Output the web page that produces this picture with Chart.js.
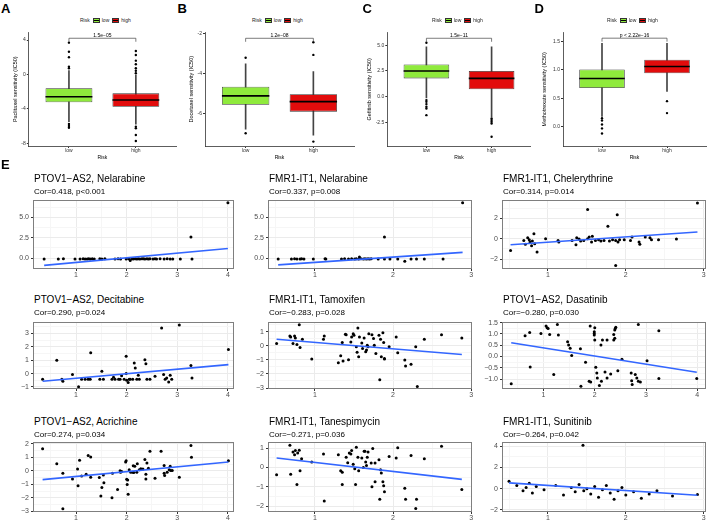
<!DOCTYPE html>
<html>
<head>
<meta charset="utf-8">
<title>Drug sensitivity and correlation panels</title>
<script src="https://cdn.jsdelivr.net/npm/chart.js@4.4.1/dist/chart.umd.min.js"></script>
<style>
  body { margin: 0; background: #fff; }
  #fig { position: relative; width: 708px; height: 521px; overflow: hidden; background: #fff;
         font-family: "Liberation Sans", Arial, Helvetica, sans-serif; color: #000; }
  #fig canvas { position: absolute; }
  .tag { position: absolute; font-size: 13px; line-height: 13px; font-weight: bold; }
  .ttl { position: absolute; font-size: 10px; line-height: 10px; white-space: nowrap; }
  .sub { position: absolute; font-size: 8px; line-height: 8px; white-space: nowrap; }
  .leg { position: absolute; height: 7px; font-size: 5px; line-height: 7px; white-space: nowrap; color: #222;
         display: flex; align-items: center; }
  .key { position: relative; display: inline-block; flex: 0 0 7px; width: 7px; height: 5px; box-sizing: border-box;
         border: 0.7px solid #333; margin: 0 2px 0 3px; }
  .key::after { content: ''; position: absolute; left: 0; right: 0; top: 1.3px; height: 1px; background: #000; }
</style>
</head>
<body>
<div id="fig"></div>
<script>
// ---------- A-D: IC50 by risk group ----------
var riskGroups = ['low', 'high'];
var boxDrugs = ['Paclitaxel', 'Docetaxel', 'Gefitinib', 'Methotrexate'];
var boxPValues = ['1.5e\u221205', '1.2e\u221208', '1.5e\u221211', 'p < 2.22e\u221216'];

// [lower whisker, Q1, median, Q3, upper whisker]
var paclitaxelLow  = [-5.49, -3.23, -2.58, -1.60, 0.45];
var paclitaxelHigh = [-5.76, -3.74, -2.97, -2.19, -0.06];
var docetaxelLow   = [-6.80, -5.58, -5.13, -4.67, -3.53];
var docetaxelHigh  = [-7.10, -5.92, -5.42, -5.05, -3.92];
var gefitinibLow   = [-0.10, 1.78, 2.50, 3.14, 4.85];
var gefitinibHigh  = [-1.94, 0.72, 1.78, 2.50, 4.85];
var methotrexateLow  = [0.18, 0.68, 0.85, 1.01, 1.47];
var methotrexateHigh = [0.62, 0.94, 1.06, 1.18, 1.47];

// outlying samples
var paclitaxelOutLow  = [3.70, 2.65, 2.00, 0.91, 0.72, -5.76, -5.99, -6.19];
var paclitaxelOutHigh = [2.73, 2.27, 1.61, 1.19, 0.72, 0.44, 0.14, -6.07, -6.26, -7.03, -7.73];
var docetaxelOutLow   = [-3.22, -7.00];
var docetaxelOutHigh  = [-2.45, -3.08, -7.42];
var gefitinibOutLow   = [5.24, -0.32, -0.49, -0.71, -0.97, -1.13, -1.78];
var gefitinibOutHigh  = [-2.10, -2.26, -2.43, -2.59, -3.88];
var methotrexateOutLow  = [0.15, 0.11, 0.04, -0.03, -0.12];
var methotrexateOutHigh = [0.45, 0.24];

var paclitaxelTicks   = ['-8', '-4', '0', '4'];
var docetaxelTicks    = ['-6', '-4', '-2'];
var gefitinibTicks    = ['-2.5', '0.0', '2.5', '5.0'];
var methotrexateTicks = ['0.0', '0.5', '1.0', '1.5'];

// ---------- E: correlation scatter panels ----------
var corTitles = ['PTOV1\u2212AS2, Nelarabine', 'FMR1-IT1, Nelarabine', 'FMR1-IT1, Chelerythrine',
                 'PTOV1\u2212AS2, Decitabine', 'FMR1-IT1, Tamoxifen', 'PTOV1\u2212AS2, Dasatinib',
                 'PTOV1\u2212AS2, Acrichine', 'FMR1-IT1, Tanespimycin', 'FMR1-IT1, Sunitinib'];
var corStats = ['Cor=0.418, p<0.001', 'Cor=0.337, p=0.008', 'Cor=0.314, p=0.014',
                'Cor=0.290, p=0.024', 'Cor=\u22120.283, p=0.028', 'Cor=\u22120.280, p=0.030',
                'Cor=0.274, p=0.034', 'Cor=\u22120.271, p=0.036', 'Cor=\u22120.264, p=0.042'];

var xTicks3 = ['1', '2', '3'];
var xTicks4 = ['1', '2', '3', '4'];

var e1X = [0.37, 0.65, 0.75, 0.98, 1.08, 1.14, 1.18, 1.22, 1.25, 1.28, 1.32, 1.36, 1.47, 1.51, 1.57,
           1.77, 1.83, 1.88, 1.99, 2.04, 2.07, 2.10, 2.13, 2.17, 2.20, 2.23, 2.26, 2.30, 2.33, 2.36,
           2.40, 2.43, 2.46, 2.52, 2.56, 2.59, 2.66, 2.74, 2.80, 2.86, 2.91, 3.06, 3.29, 3.27, 4.00];
var e1Y = [-0.12, -0.12, -0.10, -0.12, -0.12, -0.10, -0.12, -0.12, -0.10, -0.12, -0.10, -0.12, -0.10, -0.12, -0.10,
           -0.12, -0.10, -0.12, -0.12, -0.10, -0.30, -0.10, -0.12, -0.10, -0.12, -0.10, -0.12, -0.10, -0.10, -0.12,
           -0.10, -0.12, -0.10, -0.12, -0.10, -0.12, -0.10, -0.12, -0.10, -0.12, -0.12, -0.12, -0.12, 2.60, 6.80];
var e1FitX = [0.37, 4.00], e1FitY = [-0.90, 1.17];
var e1YTicks = ['0.0', '2.5', '5.0'];

var e2X = [0.53, 0.70, 0.74, 0.77, 0.81, 0.83, 0.86, 0.98, 1.13, 1.14, 1.34, 1.38, 1.43, 1.47, 1.51,
           1.53, 1.56, 1.59, 1.62, 1.64, 1.66, 1.68, 1.70, 1.72, 1.81, 1.89, 1.96, 2.06, 2.15, 2.23,
           2.30, 2.40, 2.64, 1.57, 1.89, 2.89];
var e2Y = [-0.12, -0.12, -0.10, -0.12, -0.12, -0.10, -0.12, -0.12, -0.10, -0.12, -0.12, -0.10, -0.12, -0.10, -0.12,
           -0.10, -0.12, -0.10, -0.12, -0.10, -0.12, -0.10, -0.12, -0.10, -0.12, -0.12, -0.12, -0.12, -0.40, -0.12,
           -0.12, -0.12, -0.12, 0.12, 2.60, 6.80];
var e2FitX = [0.53, 2.89], e2FitY = [-0.84, 0.70];
var e2YTicks = ['0.0', '2.5', '5.0'];

var e3X = [0.52, 0.69, 0.71, 0.74, 0.76, 0.77, 0.79, 0.80, 0.82, 0.83, 0.86, 0.97, 1.13, 1.14, 1.31, 1.36,
           1.37, 1.40, 1.42, 1.46, 1.51, 1.51, 1.53, 1.56, 1.57, 1.61, 1.65, 1.68, 1.72, 1.77, 1.79, 1.83,
           1.87, 1.89, 1.90, 1.92, 1.87, 1.98, 2.06, 2.08, 2.17, 2.18, 2.25, 2.31, 2.33, 2.42, 2.65, 2.92];
var e3Y = [-1.15, -0.17, -0.56, 0.10, -0.10, -0.33, -0.69, -0.23, 0.49, -0.49, -1.32, 0.00, -0.17, -0.33, -0.17, -0.59,
           0.10, -0.04, -0.23, -0.17, 0.00, 2.86, 0.16, -0.33, 0.23, -0.17, -0.10, -0.23, -0.17, 1.21, -0.23, -0.10,
           -0.17, 2.36, -0.33, -0.10, -2.63, -0.10, -0.17, 0.16, -0.33, -0.56, 0.16, 0.10, -0.10, -0.10, -0.04, 3.51];
var e3FitX = [0.52, 2.92], e3FitY = [-0.59, 0.65];
var e3YTicks = ['\u22122', '0', '2'];

var e4X = [0.34, 0.62, 0.72, 0.74, 0.93, 1.05, 1.11, 1.18, 1.24, 1.29, 1.28, 1.51, 1.47, 1.54, 1.71, 1.74, 1.77,
           1.84, 1.87, 1.90, 1.95, 1.99, 1.99, 2.00, 2.03, 2.05, 2.07, 2.12, 2.15, 2.17, 2.20, 2.23, 2.25,
           2.36, 2.38, 2.40, 2.46, 2.56, 2.69, 2.73, 2.76, 2.79, 2.83, 2.86, 2.89, 3.04, 3.27, 3.29, 4.01];
var e4Y = [-0.42, 0.99, -0.42, -0.57, -0.07, -0.99, -0.42, -0.42, -0.42, 1.56, -0.42, 0.17, -0.42, -0.42, -0.42, -0.27, -0.42,
           -0.42, -0.42, -0.17, -0.42, 1.30, 0.00, -0.50, -0.67, -0.42, -0.42, -0.42, 0.79, 0.41, -0.42, -0.13, -0.42,
           1.04, 0.74, -0.42, -0.42, -0.20, 3.41, -0.07, -0.42, -0.33, -0.62, -0.13, -0.42, 3.63, 0.61, -0.33, 1.80];
var e4FitX = [0.34, 4.01], e4FitY = [-0.57, 0.67];
var e4YTicks = ['\u22121', '0', '1', '2', '3'];

var e5X = [0.51, 0.68, 0.69, 0.72, 0.74, 0.75, 0.77, 0.80, 0.81, 0.84, 0.96, 1.11, 1.12, 1.30, 1.33, 1.35, 1.36, 1.39,
           1.40, 1.43, 1.46, 1.47, 1.49, 1.50, 1.53, 1.55, 1.54, 1.56, 1.57, 1.60, 1.61, 1.63, 1.65, 1.66, 1.67, 1.68,
           1.69, 1.73, 1.75, 1.76, 1.78, 1.82, 1.83, 1.84, 1.85, 1.87, 1.88, 1.89, 1.89, 1.95, 2.04, 2.06, 2.15, 2.16,
           2.23, 2.29, 2.31, 2.40, 2.62, 2.88];
var e5Y = [0.17, 0.70, 0.63, 0.17, 0.70, 0.56, 0.10, 1.51, -0.11, 0.47, -0.94, 0.47, 0.70, -1.20, -0.70, 0.24, -1.08, 0.82,
           0.80, -0.99, 0.28, 0.63, 0.87, 0.75, -0.07, 1.27, -0.46, -0.77, 0.63, 0.21, -0.18, 0.56, -0.42, -0.30, 0.05, -0.07,
           0.87, 0.80, 0.52, 0.05, -0.54, 0.75, -2.42, 0.47, -0.77, 0.94, 0.24, -0.89, -0.94, -0.07, 0.63, -0.49, -1.01, -1.43,
           -1.31, -0.07, -2.89, 0.47, 0.80, 0.56];
var e5FitX = [0.51, 2.88], e5FitY = [0.47, -0.61];
var e5YTicks = ['\u22123', '\u22122', '\u22121', '0', '1'];

var e6X = [0.37, 0.64, 0.73, 0.74, 0.95, 1.05, 1.07, 1.09, 1.12, 1.20, 1.27, 1.29, 1.47, 1.49, 1.52, 1.55, 1.72, 1.73,
           1.82, 1.89, 1.91, 1.92, 1.99, 1.99, 1.99, 2.00, 2.00, 2.02, 2.04, 2.05, 2.09, 2.12, 2.13, 2.15, 2.20, 2.24,
           2.24, 2.31, 2.37, 2.37, 2.39, 2.39, 2.40, 2.41, 2.45, 2.53, 2.71, 2.72, 2.73, 2.79, 2.82, 2.85, 2.89, 2.85,
           3.02, 3.25, 3.25, 3.99];
var e6Y = [-1.21, 0.92, 1.07, -0.47, 1.02, 1.35, 1.27, 1.24, 0.98, -0.80, 1.42, 0.95, 0.66, 0.51, 0.37, 0.04, 0.34, -1.32,
           -0.25, -1.10, 1.35, -1.13, 1.02, 1.10, 0.95, 1.27, 0.73, -0.48, -0.73, -0.95, -1.29, 0.51, -1.10, 0.73, -0.69, 0.73,
           -0.95, -0.77, 0.73, 0.98, 1.17, 0.81, 1.24, 1.30, -0.63, -0.12, -0.73, -1.07, -1.24, -0.80, -0.95, -1.10, -1.13, 1.42,
           -0.19, 1.14, -0.98, -0.98];
var e6FitX = [0.37, 3.99], e6FitY = [0.61, -0.70];
var e6YTicks = ['\u22121.0', '\u22120.5', '0.0', '0.5', '1.0', '1.5'];

var e7X = [0.34, 0.62, 0.74, 0.93, 1.03, 1.04, 1.07, 1.11, 1.20, 1.24, 1.29, 1.29, 1.46, 1.49, 1.51, 1.54, 1.55, 1.71,
           1.72, 1.82, 1.87, 1.88, 1.90, 1.98, 1.99, 2.00, 2.01, 2.02, 2.03, 2.05, 2.08, 2.12, 2.13, 2.14, 2.16, 2.20,
           2.21, 2.25, 2.28, 2.32, 2.36, 2.38, 2.38, 2.40, 2.43, 2.46, 2.56, 2.68, 2.74, 2.74, 2.75, 2.80, 2.84, 2.86,
           2.87, 2.90, 3.04, 3.27, 3.28, 4.01, 0.74];
var e7Y = [1.63, 0.53, -0.18, -0.60, 0.13, -1.10, 0.78, -0.38, -0.25, 1.13, 1.03, -0.48, -0.50, -1.85, -1.23, -0.30, -0.88, -1.98,
           -0.18, -1.38, 0.00, -0.10, -0.05, 0.65, 0.75, -0.63, -1.00, -0.68, -1.73, 0.08, -0.10, -0.10, 0.38, -0.13, 0.33, -0.10,
           0.53, 0.08, 0.15, 0.13, 0.83, -0.25, -0.60, 0.58, 0.20, 1.45, -0.55, 1.45, 0.40, -0.18, -0.35, -0.10, 0.08, 0.33,
           0.03, 0.03, -0.48, 1.88, 1.00, 0.75, -2.80];
var e7FitX = [0.34, 4.01], e7FitY = [-0.65, 0.65];
var e7YTicks = ['\u22123', '\u22122', '\u22121', '0', '1', '2'];

var e8X = [0.51, 0.68, 0.69, 0.72, 0.74, 0.75, 0.77, 0.78, 0.80, 0.81, 0.83, 0.96, 1.11, 1.12, 1.30, 1.33, 1.35, 1.35,
           1.40, 1.42, 1.44, 1.46, 1.47, 1.49, 1.51, 1.52, 1.53, 1.55, 1.56, 1.60, 1.62, 1.63, 1.64, 1.65, 1.66, 1.67,
           1.68, 1.72, 1.73, 1.74, 1.77, 1.77, 1.82, 1.83, 1.84, 1.85, 1.87, 1.88, 1.89, 1.95, 2.04, 2.06, 2.15, 2.16,
           2.23, 2.30, 2.29, 2.40, 2.62, 2.88];
var e8Y = [-0.38, 1.14, -0.35, 0.80, 0.66, 0.87, -0.87, 0.75, 0.88, -0.17, 0.45, 0.28, 0.69, -1.72, 0.66, -0.17, -0.24, -0.87,
           0.52, 0.24, 0.75, 0.69, 0.87, 0.17, -0.07, -0.87, 1.04, 0.52, -0.17, 0.49, 0.00, 0.83, 0.83, 0.28, 0.10, 0.52,
           0.80, 0.23, -0.99, 0.97, -0.73, 0.23, 0.40, -1.63, -0.12, -0.29, -0.73, -0.94, -1.25, 0.57, 0.49, 1.01, -1.07, -1.63,
           0.62, -1.63, -2.11, 0.45, 1.09, -1.13];
var e8FitX = [0.51, 2.88], e8FitY = [0.49, -0.61];
var e8YTicks = ['\u22122', '\u22121', '0', '1'];

var e9X = [0.50, 0.60, 0.68, 0.72, 0.76, 0.80, 0.85, 0.95, 1.10, 1.20, 1.30, 1.35, 1.40, 1.45, 1.46, 1.50, 1.55, 1.60,
           1.65, 1.70, 1.75, 1.80, 1.85, 1.90, 1.95, 2.00, 2.10, 2.20, 2.30, 2.40, 2.60, 2.92];
var e9Y = [0.70, 0.30, -0.20, 0.10, 0.50, -0.40, 0.20, -0.10, 0.30, -0.60, 0.10, -0.30, 0.40, 4.10, -0.20, 0.00, -0.50, 0.20,
           -0.80, -0.10, 0.30, -0.40, -1.00, -0.20, 0.10, -0.60, -0.30, -0.90, -0.50, -0.20, -0.70, -0.55];
var e9FitX = [0.50, 2.92], e9FitY = [0.55, -0.62];
var e9YTicks = ['\u22122', '0', '2', '4'];

// ---------- helpers ----------
Chart.defaults.font.family = '"Liberation Sans", Arial, Helvetica, sans-serif';
Chart.defaults.animation = false;
Chart.defaults.events = [];
Chart.defaults.plugins.legend.display = false;
Chart.defaults.plugins.tooltip.enabled = false;

var GREEN = '#8FEA3C', RED = '#E20C0C';
var fig = document.getElementById('fig');

function addDiv(cls, text, left, top) {
  var d = document.createElement('div');
  d.className = cls;
  d.textContent = text;
  d.style.left = left + 'px';
  d.style.top = top + 'px';
  fig.appendChild(d);
  return d;
}

function addCanvas(left, top, w, h) {
  var c = document.createElement('canvas');
  c.width = w; c.height = h;
  c.style.left = left + 'px'; c.style.top = top + 'px';
  c.style.width = w + 'px'; c.style.height = h + 'px';
  fig.appendChild(c);
  return c;
}

function tickValues(labels) {
  return labels.map(function (s) { return parseFloat(s.replace('\u2212', '-')); });
}

function labelFor(labels, values, v) {
  for (var i = 0; i < values.length; i++) if (Math.abs(values[i] - v) < 1e-6) return labels[i];
  return '';
}

function isMajor(values, v) {
  for (var i = 0; i < values.length; i++) if (Math.abs(values[i] - v) < 1e-6) return true;
  return false;
}

// major ticks plus ggplot-style minor breaks halfway between them
function withMinor(major, lo, hi) {
  var step = major[1] - major[0], out = [];
  for (var v = major[0] - step; v <= hi + 1e-9; v += step / 2) {
    if (v >= lo - 1e-9) out.push(+v.toFixed(6));
  }
  return out;
}

var panelBorder = {
  id: 'panelBorder',
  afterDatasetsDraw: function (chart, args, opts) {
    if (!opts.color) return;
    var a = chart.chartArea, ctx = chart.ctx;
    ctx.save();
    ctx.strokeStyle = opts.color;
    ctx.lineWidth = 1;
    ctx.strokeRect(Math.round(a.left) + 0.5, Math.round(a.top) + 0.5,
                   Math.round(a.right) - Math.round(a.left) - 1, Math.round(a.bottom) - Math.round(a.top) - 1);
    ctx.restore();
  }
};

var bracket = {
  id: 'bracket',
  afterDatasetsDraw: function (chart, args, opts) {
    if (opts.y == null) return;
    var xs = chart.scales.x, ys = chart.scales.y, ctx = chart.ctx;
    var x1 = xs.getPixelForValue(1), x2 = xs.getPixelForValue(2), yy = ys.getPixelForValue(opts.y);
    ctx.save();
    ctx.strokeStyle = '#444';
    ctx.lineWidth = 0.7;
    ctx.beginPath();
    ctx.moveTo(x1, yy + 3.5); ctx.lineTo(x1, yy); ctx.lineTo(x2, yy); ctx.lineTo(x2, yy + 3.5);
    ctx.stroke();
    ctx.fillStyle = '#000';
    ctx.font = '5px "Liberation Sans", Arial, sans-serif';
    ctx.textAlign = 'center';
    ctx.textBaseline = 'alphabetic';
    ctx.fillText(opts.text, (x1 + x2) / 2, yy - 1.6);
    ctx.restore();
  }
};

// ---------- A-D ----------
var boxLayout = [
  { left: 0,   width: 177, axisW: 28.8, padR: 1,   titlePad: 12,   tag: 'A', tagX: 1,     legX: 80 },
  { left: 177, width: 178, axisW: 28,   padR: 1,   titlePad: 11,   tag: 'B', tagX: 177.5, legX: 252 },
  { left: 354, width: 178, axisW: 33.3, padR: 1.3, titlePad: 11.7, tag: 'C', tagX: 362.5, legX: 432 },
  { left: 531, width: 177, axisW: 32,   padR: 2,   titlePad: 10.4, tag: 'D', tagX: 534.5, legX: 607 }
];
var boxStats = [[paclitaxelLow, paclitaxelHigh], [docetaxelLow, docetaxelHigh],
                [gefitinibLow, gefitinibHigh], [methotrexateLow, methotrexateHigh]];
var boxOutliers = [[paclitaxelOutLow, paclitaxelOutHigh], [docetaxelOutLow, docetaxelOutHigh],
                   [gefitinibOutLow, gefitinibOutHigh], [methotrexateOutLow, methotrexateOutHigh]];
var boxTicks = [paclitaxelTicks, docetaxelTicks, gefitinibTicks, methotrexateTicks];
var boxRange = [[-8.31, 4.88], [-7.64, -1.96], [-4.77, 6.23], [-0.34, 1.66]];
var bracketAt = [4.21, -2.25, 5.67, 1.56];

function halfBox(c) {
  var s = c.chart.scales.x;
  if (!c.chart.chartArea || !s) return 0;
  var r = Math.abs(s.getPixelForValue(1.35) - s.getPixelForValue(1));
  return isFinite(r) ? r : 0;
}

boxLayout.forEach(function (L, k) {
  var st = boxStats[k], out = boxOutliers[k];
  var tickLab = boxTicks[k], tickVal = tickValues(tickLab);
  var top = 24, h = 141;
  var cv = addCanvas(L.left, top, L.width, h);
  var outPts = [];
  out[0].forEach(function (v) { outPts.push({ x: 1, y: v }); });
  out[1].forEach(function (v) { outPts.push({ x: 2, y: v }); });

  new Chart(cv, {
    type: 'bar',
    data: {
      datasets: [
        { type: 'bar', data: [{ x: 1, y: [st[0][0], st[0][4]] }, { x: 2, y: [st[1][0], st[1][4]] }],
          backgroundColor: '#444', barThickness: 1, grouped: false, order: 3 },
        { type: 'bar', data: [{ x: 1, y: [st[0][1], st[0][3]] }, { x: 2, y: [st[1][1], st[1][3]] }],
          backgroundColor: [GREEN, RED], borderColor: '#333', borderWidth: 0.8, borderSkipped: false,
          barPercentage: 0.7, categoryPercentage: 1, grouped: false, order: 2 },
        { type: 'line', data: [{ x: 1, y: st[0][2] }, { x: 2, y: st[1][2] }], showLine: false,
          pointStyle: 'line', pointRadius: halfBox, pointBorderColor: '#000', pointBorderWidth: 1.6, order: 1 },
        { type: 'line', data: outPts, showLine: false, pointRadius: 1.2,
          pointBackgroundColor: '#000', pointBorderWidth: 0, order: 0 }
      ]
    },
    options: {
      responsive: false,
      devicePixelRatio: 1,
      layout: { autoPadding: false, padding: { left: 0, top: 8.5, right: L.padR, bottom: 0 } },
      scales: {
        x: {
          type: 'linear', min: 0.4, max: 2.6, offset: false,
          afterBuildTicks: function (s) { s.ticks = [{ value: 1 }, { value: 2 }]; },
          afterFit: function (s) { s.height = 19; },
          grid: { display: true, drawOnChartArea: false, drawTicks: true, tickLength: 2, tickColor: '#333', offset: false },
          border: { display: true, color: '#333', width: 0.8 },
          ticks: { autoSkip: false, maxRotation: 0, padding: 0, color: '#333', font: { size: 5 },
                   callback: function (v) { return riskGroups[v - 1]; } },
          title: { display: true, text: 'Risk', color: '#000', font: { size: 5 }, padding: { top: 0, bottom: 4.5 } }
        },
        y: {
          type: 'linear', min: boxRange[k][0], max: boxRange[k][1],
          afterBuildTicks: function (s) { s.ticks = tickVal.map(function (v) { return { value: v }; }); },
          afterFit: function (s) { s.width = L.axisW; },
          grid: { display: true, drawOnChartArea: false, drawTicks: true, tickLength: 2, tickColor: '#333' },
          border: { display: true, color: '#333', width: 0.8 },
          ticks: { autoSkip: false, padding: 1, color: '#333', font: { size: 5 },
                   callback: function (v) { return labelFor(tickLab, tickVal, v); } },
          title: { display: true, text: boxDrugs[k] + ' sensitivity (IC50)', color: '#000', font: { size: 5.5 },
                   padding: { top: L.titlePad, bottom: 0 } }
        }
      },
      plugins: { bracket: { y: bracketAt[k], text: boxPValues[k] } }
    },
    plugins: [bracket]
  });

  addDiv('tag', L.tag, L.tagX, 2.3);
  var leg = addDiv('leg', 'Risk', L.legX, 16.5);
  [GREEN, RED].forEach(function (col, i) {
    var key = document.createElement('span');
    key.className = 'key';
    key.style.backgroundColor = col;
    leg.appendChild(key);
    var t = document.createElement('span');
    t.textContent = riskGroups[i];
    leg.appendChild(t);
  });
});

// ---------- E ----------
addDiv('tag', 'E', 1, 158.3);

var colLeft = [33, 268, 502], colRight = [234, 472, 706];
var rowTop = [200, 322, 442], rowBottom = [269, 389, 512];
var titleTop = [174.2, 294.8, 416.5], subTop = [188.2, 309.2, 431];
var Y_AXIS_W = 30, X_AXIS_H = 12, PAD_TOP = 8, PAD_RIGHT = 2;

var corPanels = [
  { x: e1X, y: e1Y, fx: e1FitX, fy: e1FitY, xt: xTicks4, yt: e1YTicks, xr: [0.15, 4.12], yr: [-1.35, 7.15] },
  { x: e2X, y: e2Y, fx: e2FitX, fy: e2FitY, xt: xTicks3, yt: e2YTicks, xr: [0.40, 3.01], yr: [-1.35, 7.15] },
  { x: e3X, y: e3Y, fx: e3FitX, fy: e3FitY, xt: xTicks3, yt: e3YTicks, xr: [0.41, 3.03], yr: [-2.98, 3.80] },
  { x: e4X, y: e4Y, fx: e4FitX, fy: e4FitY, xt: xTicks4, yt: e4YTicks, xr: [0.15, 4.12], yr: [-1.15, 3.85] },
  { x: e5X, y: e5Y, fx: e5FitX, fy: e5FitY, xt: xTicks3, yt: e5YTicks, xr: [0.40, 3.01], yr: [-3.07, 1.70] },
  { x: e6X, y: e6Y, fx: e6FitX, fy: e6FitY, xt: xTicks4, yt: e6YTicks, xr: [0.19, 4.17], yr: [-1.44, 1.53] },
  { x: e7X, y: e7Y, fx: e7FitX, fy: e7FitY, xt: xTicks4, yt: e7YTicks, xr: [0.15, 4.12], yr: [-3.04, 2.13] },
  { x: e8X, y: e8Y, fx: e8FitX, fy: e8FitY, xt: xTicks3, yt: e8YTicks, xr: [0.40, 3.01], yr: [-2.29, 1.31] },
  { x: e9X, y: e9Y, fx: e9FitX, fy: e9FitY, xt: xTicks3, yt: e9YTicks, xr: [0.41, 3.03], yr: [-2.20, 4.40] }
];

function axisOpts(labels, range, isX) {
  var major = tickValues(labels);
  var all = withMinor(major, range[0], range[1]);
  var o = {
    type: 'linear', min: range[0], max: range[1],
    afterBuildTicks: function (s) { s.ticks = all.map(function (v) { return { value: v }; }); },
    border: { display: false },
    grid: {
      lineWidth: 1, tickLength: 2,
      color: function (c) { return c.tick && isMajor(major, c.tick.value) ? '#EBEBEB' : '#F6F6F6'; },
      tickColor: function (c) { return c.tick && isMajor(major, c.tick.value) ? '#333333' : 'rgba(0,0,0,0)'; }
    },
    ticks: { autoSkip: false, maxRotation: 0, color: '#4D4D4D', font: { size: 7 }, padding: isX ? 0 : 2,
             callback: function (v) { return labelFor(labels, major, v); } }
  };
  if (isX) o.afterFit = function (s) { s.height = X_AXIS_H; };
  else o.afterFit = function (s) { s.width = Y_AXIS_W; };
  return o;
}

corPanels.forEach(function (p, i) {
  var col = i % 3, row = Math.floor(i / 3);
  var left = colLeft[col] - Y_AXIS_W, top = rowTop[row] - PAD_TOP;
  var w = colRight[col] - colLeft[col] + Y_AXIS_W + PAD_RIGHT;
  var h = rowBottom[row] - rowTop[row] + PAD_TOP + X_AXIS_H;
  var cv = addCanvas(left, top, w, h);

  var pts = p.x.map(function (v, j) { return { x: v, y: p.y[j] }; });
  var fit = p.fx.map(function (v, j) { return { x: v, y: p.fy[j] }; });

  new Chart(cv, {
    type: 'scatter',
    data: {
      datasets: [
        { type: 'line', data: fit, borderColor: '#3366FF', borderWidth: 1.6, pointRadius: 0, fill: false, order: 0 },
        { type: 'scatter', data: pts, pointRadius: 1.5, pointBackgroundColor: '#000', pointBorderWidth: 0, order: 1 }
      ]
    },
    options: {
      responsive: false,
      devicePixelRatio: 1,
      layout: { autoPadding: false, padding: { left: 0, top: PAD_TOP, right: PAD_RIGHT, bottom: 0 } },
      scales: { x: axisOpts(p.xt, p.xr, true), y: axisOpts(p.yt, p.yr, false) },
      plugins: { panelBorder: { color: '#7F7F7F' } }
    },
    plugins: [panelBorder]
  });

  addDiv('ttl', corTitles[i], colLeft[col] + 1, titleTop[row]);
  addDiv('sub', corStats[i], colLeft[col] + 1, subTop[row]);
});
</script>
</body>
</html>
